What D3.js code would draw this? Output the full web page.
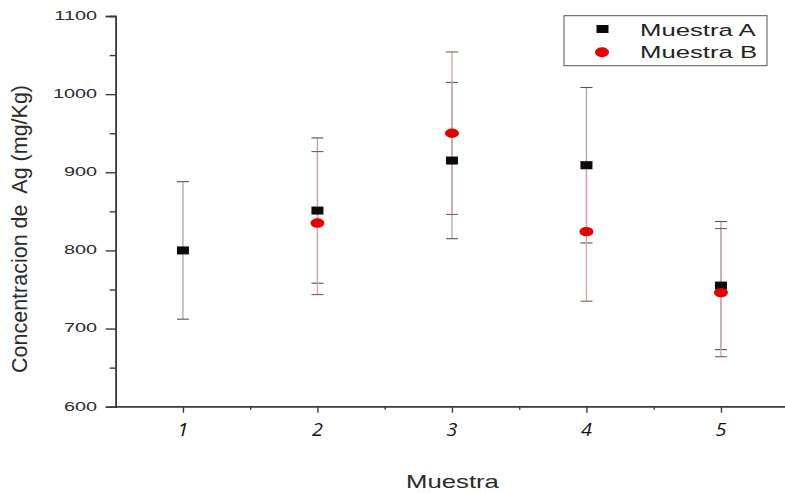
<!DOCTYPE html>
<html>
<head>
<meta charset="utf-8">
<script src="https://cdn.jsdelivr.net/npm/d3@7"></script>
<style>
  html, body { margin: 0; padding: 0; background: #fff; overflow: hidden; }
  svg { display: block; }
</style>
</head>
<body>
<svg id="chart" width="785" height="493"></svg>
<script>
// Samples on the x axis
const muestras = [1, 2, 3, 4, 5];
// Muestra A: mean and error (mg/Kg)
const valoresA = [800, 851, 915, 909, 755];
const erroresA = [88, 93, 100, 99.5, 82];
// Muestra B: mean and error (mg/Kg)
const valoresB = [null, 835, 950, 824, 746];
const erroresB = [null, 91.5, 104, 89, 82];
// Axis ticks
const yMajor = [600, 700, 800, 900, 1000, 1100];
const yMinor = [650, 750, 850, 950, 1050];
const xMajor = [1, 2, 3, 4, 5];
const xMinor = [1.5, 2.5, 3.5, 4.5, 5.5];
const legendLabels = ["Muestra A", "Muestra B"];

const svg = d3.select("#chart");
const font = "Arial, 'Liberation Sans', sans-serif";

const x = d3.scaleLinear().domain([0.5, 5.5]).range([115.7, 788.2]);
const y = d3.scaleLinear().domain([600, 1100]).range([406.7, 16]);

// Stretched text helper (glyphs are wider than normal)
function label(g, tx, ty, str, opts) {
  return g.append("text")
    .attr("transform", `translate(${tx},${ty}) scale(${opts.sx || 1},1)`)
    .attr("text-anchor", opts.anchor || "start")
    .attr("dominant-baseline", opts.baseline || "auto")
    .attr("font-family", opts.family || font)
    .attr("font-size", opts.size)
    .attr("font-style", opts.style || "normal")
    .attr("fill", opts.fill || "#222")
    .text(str);
}

const axisColor = "#3a3a3a";

// Y axis: minor and major ticks
const yMinorAxis = svg.append("g").attr("transform", `translate(${x(0.5)},0)`)
  .call(d3.axisLeft(y).tickValues(yMinor).tickSize(6).tickFormat(""));
const yMajorAxis = svg.append("g").attr("transform", `translate(${x(0.5)},0)`)
  .call(d3.axisLeft(y).tickValues(yMajor).tickSize(10).tickFormat(""));
// X axis: minor and major ticks
const xMinorAxis = svg.append("g").attr("transform", `translate(0,${y(600)})`)
  .call(d3.axisBottom(x).tickValues(xMinor).tickSize(3).tickFormat(""));
const xMajorAxis = svg.append("g").attr("transform", `translate(0,${y(600)})`)
  .call(d3.axisBottom(x).tickValues(xMajor).tickSize(6).tickFormat(""));

[yMinorAxis, yMajorAxis, xMinorAxis, xMajorAxis].forEach(a => {
  a.selectAll("path.domain").attr("stroke", axisColor).attr("stroke-width", 1.6);
  a.selectAll(".tick line").attr("stroke", axisColor).attr("stroke-width", 1.4);
});
xMajorAxis.select("path.domain").attr("d", `M${x(0.5)},0H785`);
xMinorAxis.select("path.domain").attr("d", `M${x(0.5)},0H785`);

// Y tick labels
const yLab = svg.append("g");
yMajor.forEach(v => label(yLab, 97, y(v) + 0.5, String(v),
  { anchor: "end", baseline: "middle", size: 12.8, sx: 1.55, fill: "#2a2a2a" }));

// X tick labels
const xLab = svg.append("g");
xMajor.forEach(v => label(xLab, x(v), 436, String(v),
  { anchor: "middle", size: 18, style: "italic", sx: 1.1, family: "'Open Sans', 'DejaVu Sans', sans-serif", fill: "#111" }));

// Axis titles
label(svg, 452.5, 488, "Muestra", { anchor: "middle", size: 17.6, sx: 1.46, fill: "#2a2a2a" });
svg.append("text")
  .attr("transform", `translate(27,229) rotate(-90)`)
  .attr("text-anchor", "middle")
  .attr("font-family", font)
  .attr("font-size", 21.5)
  .attr("fill", "#2a2a2a")
  .attr("xml:space", "preserve")
  .style("white-space", "pre")
  .text("Concentracion de  Ag (mg/Kg)");

// Error bars
const capHalf = 6;
function errorBars(vals, errs, lineColor, capColor) {
  const g = svg.append("g");
  muestras.forEach((m, i) => {
    if (vals[i] == null) return;
    const cx = x(m), top = y(vals[i] + errs[i]), bot = y(vals[i] - errs[i]);
    g.append("line").attr("x1", cx).attr("x2", cx).attr("y1", top).attr("y2", bot)
      .attr("stroke", lineColor).attr("stroke-width", 1.3);
    [top, bot].forEach(cy => g.append("line")
      .attr("x1", cx - capHalf).attr("x2", cx + capHalf).attr("y1", cy).attr("y2", cy)
      .attr("stroke", capColor).attr("stroke-width", 1.1));
  });
}
errorBars(valoresA, erroresA, "#a8a8a8", "#555");
errorBars(valoresB, erroresB, "#d7a3a3", "#8a5a5a");

// Markers
const markA = svg.append("g");
muestras.forEach((m, i) => {
  markA.append("rect").attr("x", x(m) - 6).attr("y", y(valoresA[i]) - 4)
    .attr("width", 12).attr("height", 8).attr("fill", "#0a0a0a");
});
const markB = svg.append("g");
muestras.forEach((m, i) => {
  if (valoresB[i] == null) return;
  markB.append("ellipse").attr("cx", x(m)).attr("cy", y(valoresB[i]))
    .attr("rx", 7).attr("ry", 4.7).attr("fill", "#e60000");
});

// Legend
const leg = svg.append("g");
leg.append("rect").attr("x", 564).attr("y", 15.7).attr("width", 203).attr("height", 50)
  .attr("fill", "#fff").attr("stroke", "#555").attr("stroke-width", 1);
leg.append("rect").attr("x", 602.5 - 6).attr("y", 29 - 4).attr("width", 12).attr("height", 8).attr("fill", "#0a0a0a");
leg.append("ellipse").attr("cx", 602).attr("cy", 52.3).attr("rx", 7).attr("ry", 5).attr("fill", "#e60000");
label(leg, 640, 36, legendLabels[0], { size: 16.8, sx: 1.53, fill: "#222" });
label(leg, 640, 58, legendLabels[1], { size: 16.8, sx: 1.53, fill: "#222" });
</script>
</body>
</html>
